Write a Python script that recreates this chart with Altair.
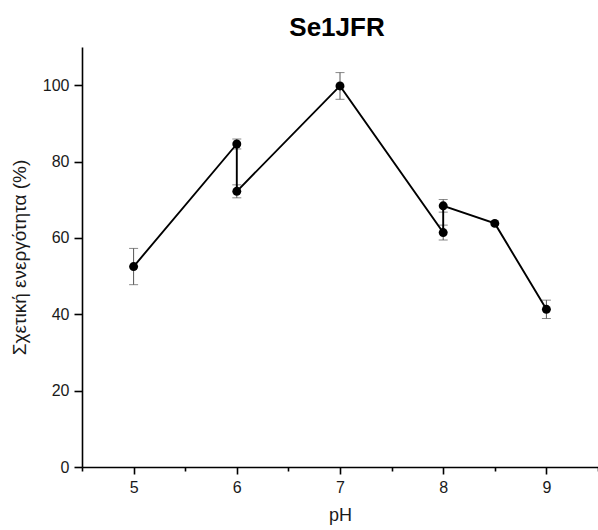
import altair as alt
import pandas as pd

# Data
ph = [5, 6, 6, 7, 8, 8, 8.5, 9]
activity = [52.5, 84.6, 72.2, 99.8, 61.4, 68.4, 63.8, 41.3]
error = [4.75, 1.3, 1.7, 3.5, 1.95, 1.65, 0.0, 2.4]
order = list(range(len(ph)))

x_ticks = [4.5, 5, 5.5, 6, 6.5, 7, 7.5, 8, 8.5, 9, 9.5]
y_ticks = [0, 10, 20, 30, 40, 50, 60, 70, 80, 90, 100, 110]

df = pd.DataFrame({"pH": ph, "act": activity, "err": error, "order": order})
df["lo"] = df["act"] - df["err"]
df["hi"] = df["act"] + df["err"]

FONT = "Liberation Sans"
TXT = "#1a1a1a"

x_scale = alt.Scale(domain=[4.5, 9.5], nice=False, zero=False)
y_scale = alt.Scale(domain=[0, 110], nice=False)

common = dict(
    grid=False,
    domainColor="black",
    domainWidth=1.6,
    tickColor="black",
    tickWidth=1.6,
    labelFont=FONT,
    labelFontSize=16,
    labelColor=TXT,
    titleFont=FONT,
    titleFontWeight="normal",
    titleColor=TXT,
    labelPadding=5,
)

x_axis = alt.Axis(
    values=x_ticks,
    labelExpr="datum.value % 1 === 0 ? format(datum.value, 'd') : ''",
    tickSize={"condition": {"test": "datum.value % 1 === 0", "value": 7}, "value": 4},
    titlePadding=11,
    titleFontSize=18,
    **common,
)
y_axis = alt.Axis(
    values=y_ticks,
    labelExpr="datum.value % 20 === 0 ? format(datum.value, 'd') : ''",
    tickSize={"condition": {"test": "datum.value % 20 === 0", "value": 8}, "value": 4},
    titlePadding=13,
    titleFontSize=19,
    **common,
)

base = alt.Chart(df)
err_df = base.transform_filter("datum.err > 0")

bars = err_df.mark_rule(color="#555555", strokeWidth=1).encode(
    x=alt.X("pH:Q", scale=x_scale, axis=x_axis, title="pH"),
    y=alt.Y("lo:Q", scale=y_scale, axis=y_axis, title="Σχετική ενεργότητα (%)"),
    y2="hi:Q",
)
caps_hi = err_df.mark_tick(color="#555555", orient="horizontal", size=9, thickness=1).encode(
    x="pH:Q", y="hi:Q"
)
caps_lo = err_df.mark_tick(color="#555555", orient="horizontal", size=9, thickness=1).encode(
    x="pH:Q", y="lo:Q"
)
line = base.mark_line(color="black", strokeWidth=1.9).encode(
    x="pH:Q", y="act:Q", order="order:Q"
)
points = base.mark_point(filled=True, color="black", size=80, opacity=1).encode(
    x="pH:Q", y="act:Q"
)

chart = (
    alt.layer(bars, caps_hi, caps_lo, line, points)
    .properties(
        width=516,
        height=420,
        autosize=alt.AutoSizeParams(type="none"),
        padding={"left": 82, "top": 47, "right": 0, "bottom": 63},
        title=alt.TitleParams(
            "Se1JFR",
            font=FONT,
            fontSize=26,
            fontWeight="bold",
            color="black",
            anchor="middle",
            frame="group",
            offset=6,
            dx=-3,
        ),
    )
    .configure_view(stroke=None)
)

chart.save("out.html", embed_options={"renderer": "svg", "actions": False})
